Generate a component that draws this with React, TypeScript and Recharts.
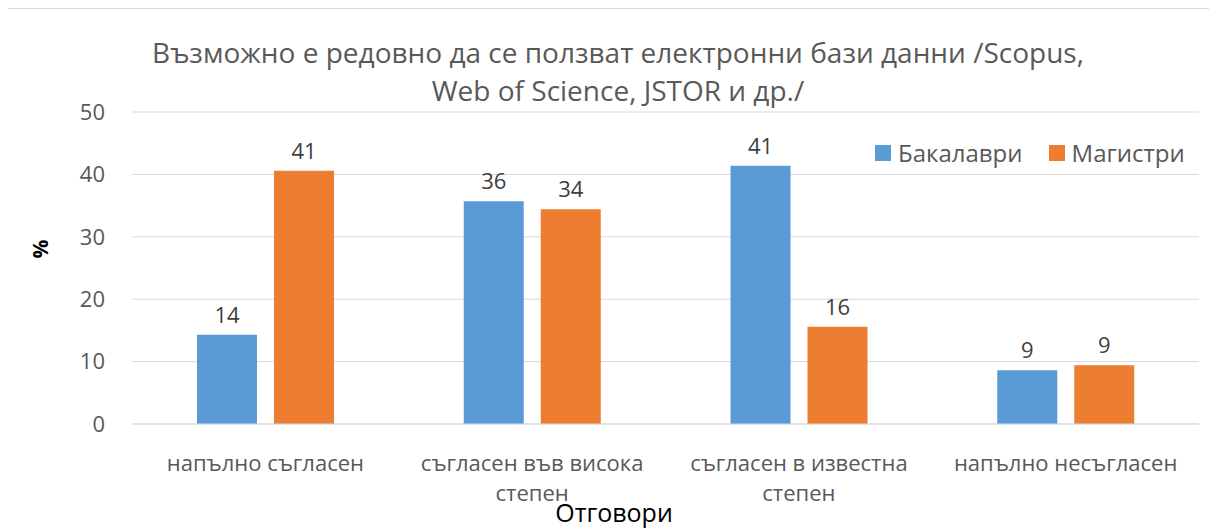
import React from 'react';
import { BarChart, Bar, XAxis, YAxis, CartesianGrid, LabelList } from 'recharts';

const categories = [
  'напълно съгласен',
  'съгласен във висока степен',
  'съгласен в известна степен',
  'напълно несъгласен',
];
const bachelors = [14.3, 35.7, 41.4, 8.6];
const masters = [40.6, 34.4, 15.6, 9.4];
const yTicks = [0, 10, 20, 30, 40, 50];

const series = [
  { key: 'bachelors', name: 'Бакалаври', color: '#5B9BD5' },
  { key: 'masters', name: 'Магистри', color: '#ED7D31' },
];

const data = categories.map((c, i) => ({
  category: c,
  bachelors: bachelors[i],
  masters: masters[i],
}));

const FONT = '"Open Sans", sans-serif';
const TEXT = '#595959';

// wrap long category names onto two lines like the original
const wrapLabel = (s: string): string[] => {
  if (s.length <= 18) return [s];
  const idx = s.lastIndexOf(' ');
  return [s.slice(0, idx), s.slice(idx + 1)];
};

const CategoryTick = (props: any) => {
  const { x, y, payload } = props;
  const lines = wrapLabel(payload.value);
  return (
    <g transform={`translate(${x},${y})`}>
      {lines.map((l, i) => (
        <text
          key={i}
          x={0}
          y={39 + i * 30}
          textAnchor="middle"
          fill={TEXT}
          fontSize={22}
          fontFamily={FONT}
        >
          {l}
        </text>
      ))}
    </g>
  );
};

const App: React.FC = () => {
  return (
    <div
      style={{
        position: 'relative',
        width: 1208,
        height: 520,
        borderLeft: '1px solid #d9d9d9',
        borderTop: '1px solid #d9d9d9',
        boxSizing: 'border-box',
        fontFamily: FONT,
        overflow: 'hidden',
        marginLeft: -1,
      }}
    >
      <div
        style={{
          position: 'absolute',
          left: 0,
          width: 1220,
          top: 24,
          textAlign: 'center',
          color: TEXT,
          fontSize: 28,
          lineHeight: '38px',
        }}
      >
        Възможно е редовно да се ползват електронни бази данни /Scopus,
        <br />
        Web of Science, JSTOR и др./
      </div>

      <div
        style={{
          position: 'absolute',
          top: 127,
          left: 867,
          display: 'flex',
          alignItems: 'center',
          color: TEXT,
          fontSize: 24,
        }}
      >
        {series.map((s) => (
          <div key={s.key} style={{ display: 'flex', alignItems: 'center', marginRight: 26 }}>
            <span style={{ width: 16, height: 16, background: s.color, marginRight: 7 }} />
            <span>{s.name}</span>
          </div>
        ))}
      </div>

      <BarChart
        width={1207}
        height={519}
        data={data}
        margin={{ top: 103, right: 16, left: 0, bottom: 44 }}
        barSize={60}
        barGap={17}
      >
        <CartesianGrid vertical={false} stroke="#d9d9d9" />
        <XAxis
          dataKey="category"
          tickLine={false}
          axisLine={{ stroke: '#d9d9d9' }}
          tick={<CategoryTick />}
          interval={0}
          height={60}
        />
        <YAxis
          domain={[0, 50]}
          ticks={yTicks}
          width={124}
          tickLine={false}
          axisLine={false}
          tickSize={0}
          tickMargin={27}
          tick={{ fill: TEXT, fontSize: 22, fontFamily: FONT }}
        />
        {series.map((s) => (
          <Bar key={s.key} dataKey={s.key} name={s.name} fill={s.color} isAnimationActive={false}>
            <LabelList
              dataKey={s.key}
              position="top"
              offset={12}
              formatter={(v: any) => Math.round(Number(v))}
              fill="#404040"
              fontSize={22}
              fontFamily={FONT}
            />
          </Bar>
        ))}
      </BarChart>

      <div
        style={{
          position: 'absolute',
          left: 23,
          top: 226,
          transform: 'rotate(-90deg)',
          fontWeight: 'bold',
          fontSize: 21,
          color: '#000',
        }}
      >
        %
      </div>

      <div
        style={{
          position: 'absolute',
          left: 0,
          width: 1212,
          top: 486,
          textAlign: 'center',
          fontSize: 25,
          color: '#000',
        }}
      >
        Отговори
      </div>
    </div>
  );
};

export default App;
